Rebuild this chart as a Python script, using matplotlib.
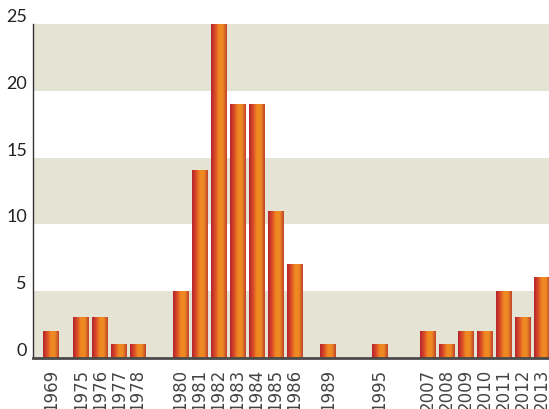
import numpy as np
import matplotlib.pyplot as plt
from matplotlib.colors import LinearSegmentedColormap

# data
years = ["1969", "1975", "1976", "1977", "1978",
         "1980", "1981", "1982", "1983", "1984", "1985", "1986",
         "1989", "1995",
         "2007", "2008", "2009", "2010", "2011", "2012", "2013"]
counts = [2, 3, 3, 1, 1,
          5, 14, 25, 19, 19, 11, 7,
          1, 1,
          2, 1, 2, 2, 5, 3, 6]
y_ticks = [0, 5, 10, 15, 20, 25]

# layout: extra space (in bar slots) placed before each group start
group_gaps = {"1975": 0.58, "1980": 1.27, "1989": 0.79, "1995": 1.71, "2007": 1.56}

pos = []
x = 0.0
for i, yr in enumerate(years):
    if i > 0:
        x += 1 + group_gaps.get(yr, 0)
    pos.append(x)

fig = plt.figure(figsize=(5.49, 4.10), dpi=100)
ax = fig.add_axes([0.0592, 0.1244, 0.9408, 0.8146])

# alternating background bands
for lo in y_ticks[:-1]:
    if (lo // 5) % 2 == 0:
        ax.axhspan(lo, lo + 5, color="#e5e3d3", lw=0, zorder=0)

cmap = LinearSegmentedColormap.from_list(
    "barfill", ["#b3232e", "#d94a28", "#f08a22", "#ee8a22", "#c0412c"])
grad = np.linspace(0, 1, 64).reshape(1, -1)

bars = ax.bar(pos, counts, width=0.8, color="none", zorder=2)
for b in bars:
    x0, w, h = b.get_x(), b.get_width(), b.get_height()
    ax.imshow(grad, cmap=cmap, aspect="auto", extent=(x0, x0 + w, 0, h),
              zorder=2, interpolation="bicubic")
ax.set_xlim(pos[0] - 0.97, pos[-1] + 0.40)
ax.set_ylim(0, 25)

for s in ["top", "right"]:
    ax.spines[s].set_visible(False)
ax.spines["left"].set_color("#333333")
ax.spines["left"].set_linewidth(1.0)
ax.spines["bottom"].set_color("#4a4a4a")
ax.spines["bottom"].set_linewidth(2.0)
ax.spines["bottom"].set_zorder(3)

ax.set_yticks(y_ticks)
ax.set_yticklabels([str(t) for t in y_ticks], family=["Lato", "DejaVu Sans"],
                   fontsize=13, color="#222222", va="bottom")
ax.tick_params(axis="y", length=0, pad=4)

ax.set_xticks(pos)
ax.set_xticklabels(years, rotation=90, family="DejaVu Sans",
                   fontsize=12, color="#444444")
ax.tick_params(axis="x", length=0, pad=7)

fig.savefig("out.png", dpi=100)
